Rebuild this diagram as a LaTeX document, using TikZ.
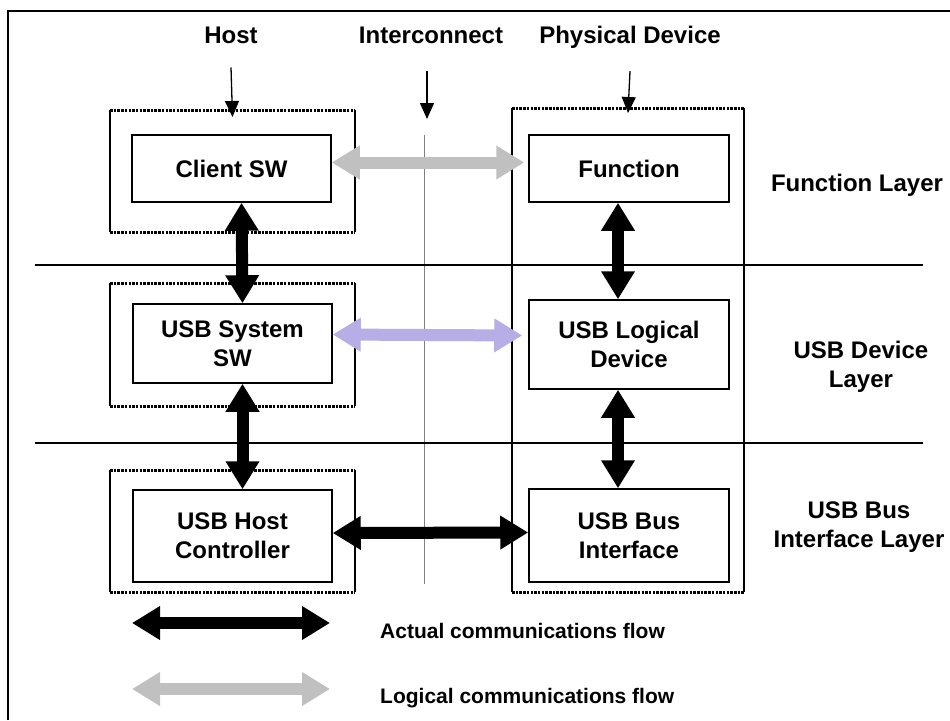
\documentclass[tikz,border=0pt]{standalone}
\usepackage{fontspec}
\setmainfont{Liberation Sans}
\usetikzlibrary{arrows.meta}
\definecolor{logicgray}{RGB}{192,192,192}
\definecolor{logicviolet}{RGB}{182,174,228}
\begin{document}
\begin{tikzpicture}[x=1pt,y=-1pt,
  lbl/.style={font=\fontsize{24}{29}\selectfont\bfseries, align=center, inner sep=0pt},
  legendtxt/.style={font=\fontsize{21}{25}\selectfont\bfseries, inner sep=0pt, anchor=base west},
  inbox/.style={lbl, draw, line width=1.5pt},
  frame/.style={inner sep=0pt, outer sep=0pt},
  dotedge/.style={line width=3pt, dash pattern=on 2.5pt off 1.2pt},
  solidedge/.style={line width=1.6pt},
  flow/.style={line width=12pt, {Triangle[length=28pt,width=32pt]}-{Triangle[length=28pt,width=32pt]}},
  logicflow/.style={flow, draw=logicgray, color=logicgray},
  pointer/.style={line width=1.3pt, -{Triangle[length=16pt,width=14pt]}},
  layerline/.style={line width=1.5pt}
]
\useasboundingbox (0,0) rectangle (950,720);
\fill[white] (0,0) rectangle (950,720);

% outer border
\draw[line width=1.5pt] (8,720) -- (8,11) -- (950,11);

% column headings
\node[lbl, anchor=base] (hostlbl) at (231,43) {Host};
\node[lbl, anchor=base] (iclbl) at (431,43) {Interconnect};
\node[lbl, anchor=base] (devlbl) at (630,43) {Physical Device};

% dotted frames around host layers and the physical device
\node[frame, minimum width=245pt, minimum height=122pt] (h1) at (232.5,171) {};
\node[frame, minimum width=245pt, minimum height=123pt] (h2) at (232.5,344.5) {};
\node[frame, minimum width=245pt, minimum height=122pt] (h3) at (232.5,531) {};
\node[frame, minimum width=232pt, minimum height=484pt] (pd) at (628,350) {};
\foreach \f in {h1,h2,h3,pd}{
  \draw[dotedge] (\f.north west) -- (\f.north east);
  \draw[dotedge] (\f.south west) -- (\f.south east);
  \draw[solidedge] (\f.north west) -- (\f.south west);
  \draw[solidedge] (\f.north east) -- (\f.south east);
}

% interconnect line
\coordinate (icTop) at (424,135);
\coordinate (icBot) at (424,584);
\draw[gray, line width=0.9pt] (icTop) -- (icBot);

% layer separators
\coordinate (l1a) at (35,265);  \coordinate (l1b) at (923,265);
\coordinate (l2a) at (35,443);  \coordinate (l2b) at (923,443);
\draw[layerline] (l1a) -- (l1b);
\draw[layerline] (l2a) -- (l2b);

% inner boxes
\node[inbox, fill=white, minimum width=199pt, minimum height=67pt] (client) at (231.5,168.5) {Client SW};
\node[inbox, fill=white, minimum width=199pt, minimum height=79pt] (syssw) at (232.5,343.5) {USB System\\SW};
\node[inbox, fill=white, minimum width=199pt, minimum height=92pt] (hostc) at (232.5,536) {USB Host\\Controller};
\node[inbox, fill=white, minimum width=200pt, minimum height=67pt] (func) at (629,168.5) {Function};
\node[inbox, fill=white, minimum width=200pt, minimum height=89pt] (logdev) at (629,344.5) {USB Logical\\Device};
\node[inbox, fill=white, minimum width=200pt, minimum height=93pt] (busif) at (629,535.5) {USB Bus\\Interface};

% heading pointers
\coordinate (icTip) at (427,119);
\draw[pointer] ([yshift=-24pt]hostlbl.south) -- ([yshift=-7pt]h1.north);
\draw[pointer] ([yshift=-28pt,xshift=-4pt]iclbl.south) -- (icTip);
\draw[pointer] ([yshift=-23pt]devlbl.south) -- ([yshift=-5pt]pd.north);

% right-hand layer names
\node[lbl] (lay1) at (857,185) {Function Layer};
\node[lbl] (lay2) at (861,367) {USB Device\\Layer};
\node[lbl] (lay3) at (859,527) {USB Bus\\Interface Layer};

% actual communication flows
\draw[flow] ([xshift=10pt]client.south) -- ([xshift=10pt]syssw.north);
\draw[flow] ([xshift=10pt]syssw.south) -- ([xshift=10pt]hostc.north);
\draw[flow] ([xshift=-11pt]func.south) -- ([xshift=-11pt]logdev.north);
\draw[flow] ([xshift=-11pt]logdev.south) -- ([xshift=-11pt]busif.north);
\draw[flow] ([yshift=3pt]hostc.east) -- ([yshift=3pt]busif.west);

% logical communication flows
\draw[logicflow] ([yshift=6pt]client.east) -- ([yshift=6pt,xshift=-4pt]func.west);
\draw[flow, draw=logicviolet, color=logicviolet] ([yshift=9pt]syssw.east) -- ([yshift=9pt,xshift=-6pt]logdev.west);

% legend
\coordinate (ka) at (132,623); \coordinate (kb) at (330,623);
\coordinate (kc) at (132,689); \coordinate (kd) at (330,689);
\draw[flow] (ka) -- (kb);
\draw[logicflow] (kc) -- (kd);
\node[legendtxt] (k1) at (380,638) {Actual communications flow};
\node[legendtxt] (k2) at (380,703) {Logical communications flow};
\end{tikzpicture}
\end{document}
